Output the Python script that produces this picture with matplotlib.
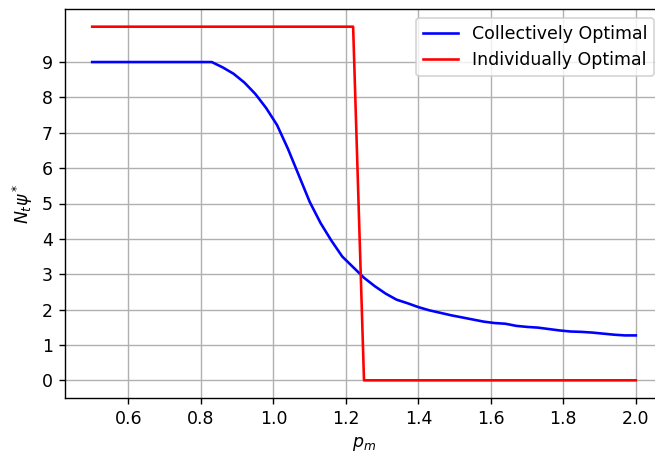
import numpy as np
import matplotlib
matplotlib.use("Agg")
import matplotlib.pyplot as plt

p_m = [round(0.5 + 0.03 * k, 2) for k in range(51)]

collective = [9.0, 9.0, 9.0, 9.0, 9.0, 9.0, 9.0, 9.0, 9.0, 9.0, 9.0, 9.0,
              8.85, 8.67, 8.42, 8.1, 7.7, 7.22, 6.55, 5.8, 5.05, 4.45, 3.95,
              3.5, 3.2, 2.9, 2.66, 2.45, 2.28, 2.18, 2.07, 1.98, 1.91, 1.84,
              1.78, 1.72, 1.66, 1.62, 1.6, 1.54, 1.51, 1.49, 1.45, 1.41,
              1.38, 1.37, 1.35, 1.32, 1.29, 1.27, 1.27]

individual = [10] * 25 + [0] * 26

yticks = list(range(10))
xticks = [0.6, 0.8, 1.0, 1.2, 1.4, 1.6, 1.8, 2.0]

DPI = 125
fig = plt.figure(figsize=(655 / DPI, 454 / DPI), dpi=DPI)
ax = fig.add_axes([65 / 655, 1 - 398 / 454, (663 - 65) / 655, (398 - 9) / 454])

ax.plot(p_m, collective, color="blue", lw=1.5, label="Collectively Optimal")
ax.plot(p_m, individual, color="red", lw=1.5, label="Individually Optimal")

ax.set_xlim(0.425, 2.075)
ax.set_ylim(-0.5, 10.5)
ax.set_yticks(yticks)
ax.set_xticks(xticks)
ax.grid(True, color="#b0b0b0", lw=0.8)
ax.set_xlabel("$p_m$")
ax.set_ylabel(r"$N_t\psi^*$")
ax.legend(loc="upper right")

fig.savefig("out.png", dpi=DPI)
